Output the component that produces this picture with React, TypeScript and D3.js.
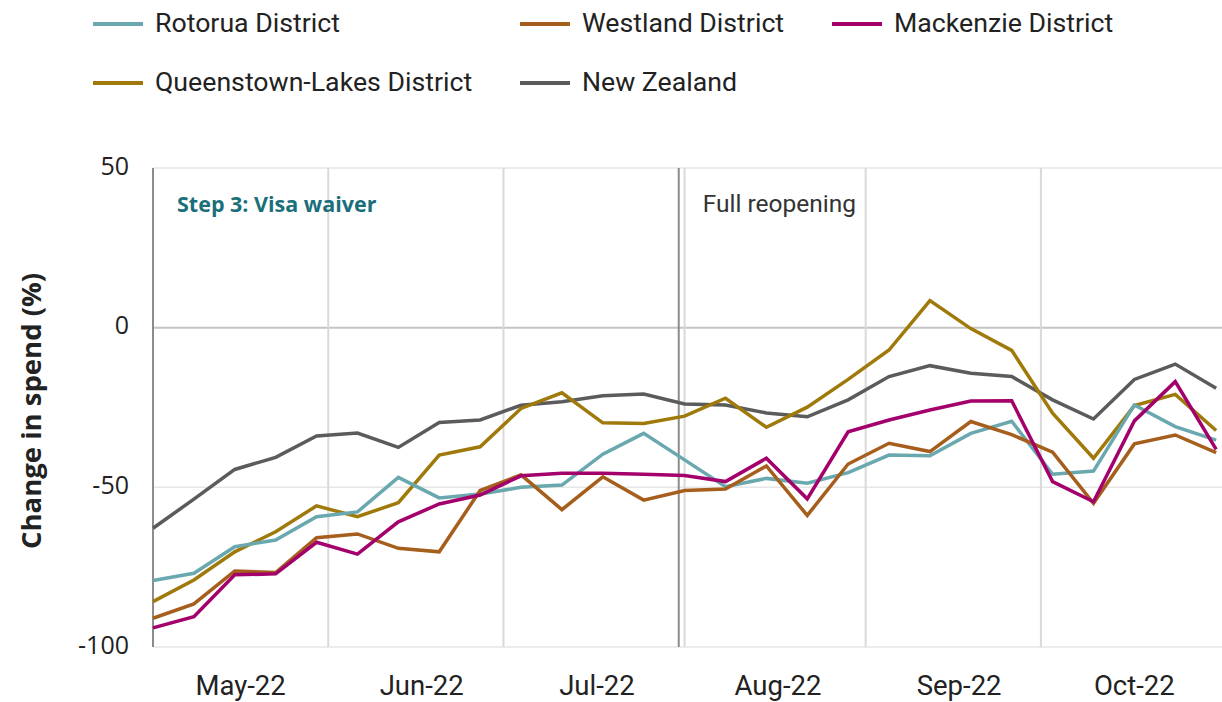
import React from "react";
import * as d3 from "d3";

const weeks = [
  "2022-05-02","2022-05-09","2022-05-16","2022-05-23","2022-05-30",
  "2022-06-06","2022-06-13","2022-06-20","2022-06-27",
  "2022-07-04","2022-07-11","2022-07-18","2022-07-25",
  "2022-08-01","2022-08-08","2022-08-15","2022-08-22","2022-08-29",
  "2022-09-05","2022-09-12","2022-09-19","2022-09-26",
  "2022-10-03","2022-10-10","2022-10-17","2022-10-24","2022-10-31",
];

const rotorua = [-79.2,-76.9,-68.6,-66.5,-59.2,-57.7,-46.9,-53.3,-52.1,-50.0,-49.3,-39.6,-33.1,-41.4,-49.8,-47.2,-48.7,-45.4,-39.9,-40.1,-33.1,-29.3,-45.9,-44.9,-24.2,-31.0,-35.2];
const westland = [-91.0,-86.5,-76.2,-76.7,-65.8,-64.6,-69.1,-70.2,-51.0,-46.1,-57.0,-46.7,-54.0,-51.0,-50.5,-43.3,-58.8,-42.7,-36.2,-38.8,-29.4,-33.5,-39.0,-55.0,-36.4,-33.6,-39.1];
const mackenzie = [-94.0,-90.5,-77.4,-77.1,-67.2,-70.9,-60.8,-55.2,-52.4,-46.4,-45.6,-45.6,-45.9,-46.3,-48.2,-40.9,-53.6,-32.6,-28.9,-25.8,-23.0,-22.9,-48.2,-54.5,-29.2,-16.9,-38.1];
const queenstown = [-85.8,-79.0,-70.2,-63.9,-55.8,-59.2,-54.8,-39.9,-37.3,-25.3,-20.4,-29.8,-30.0,-27.7,-22.1,-31.2,-24.9,-16.2,-7.0,8.5,-0.3,-7.1,-26.8,-40.9,-24.4,-20.9,-32.2];
const newZealand = [-62.8,-53.7,-44.4,-40.6,-33.9,-33.0,-37.5,-29.7,-28.9,-24.3,-23.2,-21.3,-20.8,-23.9,-24.2,-26.7,-27.9,-22.6,-15.3,-11.9,-14.3,-15.3,-22.6,-28.6,-16.2,-11.4,-19.0];

const seriesNames = ["Rotorua District","Westland District","Mackenzie District","Queenstown-Lakes District","New Zealand"];
const seriesColors = ["#69a8af","#a65e1c","#a4006c","#9f7a0b","#5b5b5b"];
const seriesValues = [rotorua, westland, mackenzie, queenstown, newZealand];
const drawOrder = [4, 3, 0, 1, 2];

const yTicks = [50, 0, -50, -100];
const monthStarts = ["2022-06-01","2022-07-01","2022-08-01","2022-09-01","2022-10-01"];
const monthLabels = ["May-22","Jun-22","Jul-22","Aug-22","Sep-22","Oct-22"];
const monthLabelDates = ["2022-05-17","2022-06-17","2022-07-17","2022-08-17","2022-09-17","2022-10-17"];
const events = [
  { date: "2022-05-02", label: "Step 3: Visa waiver" },
  { date: "2022-07-31", label: "Full reopening" },
];

const W = 1222, H = 702;
const left = 153, right = 1222, top = 168, bottom = 647;

export default function App() {
  const parse = d3.utcParse("%Y-%m-%d");
  const x = d3.scaleUtc().domain([parse("2022-05-02")!, parse("2022-11-01")!]).range([left, right]);
  const y = d3.scaleLinear().domain([-100, 50]).range([bottom, top]);
  const dates = weeks.map((d) => parse(d)!);

  const line = d3.line<number>().x((_, i) => x(dates[i])).y((v) => y(v));

  const legendPos = [
    { lx: 93, ty: 24 },
    { lx: 520, ty: 24 },
    { lx: 832, ty: 24 },
    { lx: 93, ty: 83 },
    { lx: 520, ty: 83 },
  ];

  const sansCond = "Roboto, 'Noto Sans', sans-serif";
  const sans = "'Open Sans', 'Noto Sans', sans-serif";

  return (
    <svg width={W} height={H} style={{ position: "absolute", left: 0, top: 0, background: "#fff" }}>
      {yTicks.map((t) => (
        <line key={"h" + t} x1={left} x2={right} y1={y(t)} y2={y(t)}
          stroke={t === 0 ? "#c4c4c4" : "#e6e6e6"} strokeWidth={t === 0 ? 2 : 1.5} />
      ))}
      {monthStarts.map((m) => (
        <line key={"v" + m} x1={x(parse(m)!)} x2={x(parse(m)!)} y1={top} y2={bottom}
          stroke="#d9d9d9" strokeWidth={2} />
      ))}
      {events.map((e) => (
        <line key={"e" + e.date} x1={x(parse(e.date)!)} x2={x(parse(e.date)!)} y1={top} y2={bottom}
          stroke="#8c8c8c" strokeWidth={2} />
      ))}
      <text x={x(parse(events[0].date)!) + 24} y={206} dominantBaseline="middle"
        fontFamily={sans} fontSize={21.5} fontWeight={700} fill="#1a6f7b">{events[0].label}</text>
      <text x={x(parse(events[1].date)!) + 24} y={206} dominantBaseline="middle"
        fontFamily={sansCond} fontSize={24.5} fill="#333">{events[1].label}</text>

      {drawOrder.map((si) => (
        <path key={seriesNames[si]} d={line(seriesValues[si]) || ""} fill="none"
          stroke={seriesColors[si]} strokeWidth={3.5} strokeLinejoin="miter" />
      ))}

      {yTicks.map((t) => (
        <text key={"yt" + t} x={129} y={y(t)} textAnchor="end" dominantBaseline="middle"
          fontFamily={sans} fontSize={25} fill="#222">{t}</text>
      ))}
      <text transform={`translate(34,${411}) rotate(-90)`} textAnchor="middle"
        dominantBaseline="middle" fontFamily={sans} fontSize={27.5} fontWeight={700} fill="#222">
        Change in spend (%)
      </text>

      {monthLabels.map((m, i) => (
        <text key={m} x={x(parse(monthLabelDates[i])!)} y={688} textAnchor="middle" dominantBaseline="middle"
          fontFamily={sansCond} fontSize={27.5} fill="#222">{m}</text>
      ))}

      {seriesNames.map((n, i) => (
        <g key={"lg" + n}>
          <line x1={legendPos[i].lx} x2={legendPos[i].lx + 50} y1={legendPos[i].ty} y2={legendPos[i].ty}
            stroke={seriesColors[i]} strokeWidth={4} />
          <text x={legendPos[i].lx + 62} y={legendPos[i].ty + 1} dominantBaseline="middle"
            fontFamily={sansCond} fontSize={26.7} fill="#222">{n}</text>
        </g>
      ))}
    </svg>
  );
}
